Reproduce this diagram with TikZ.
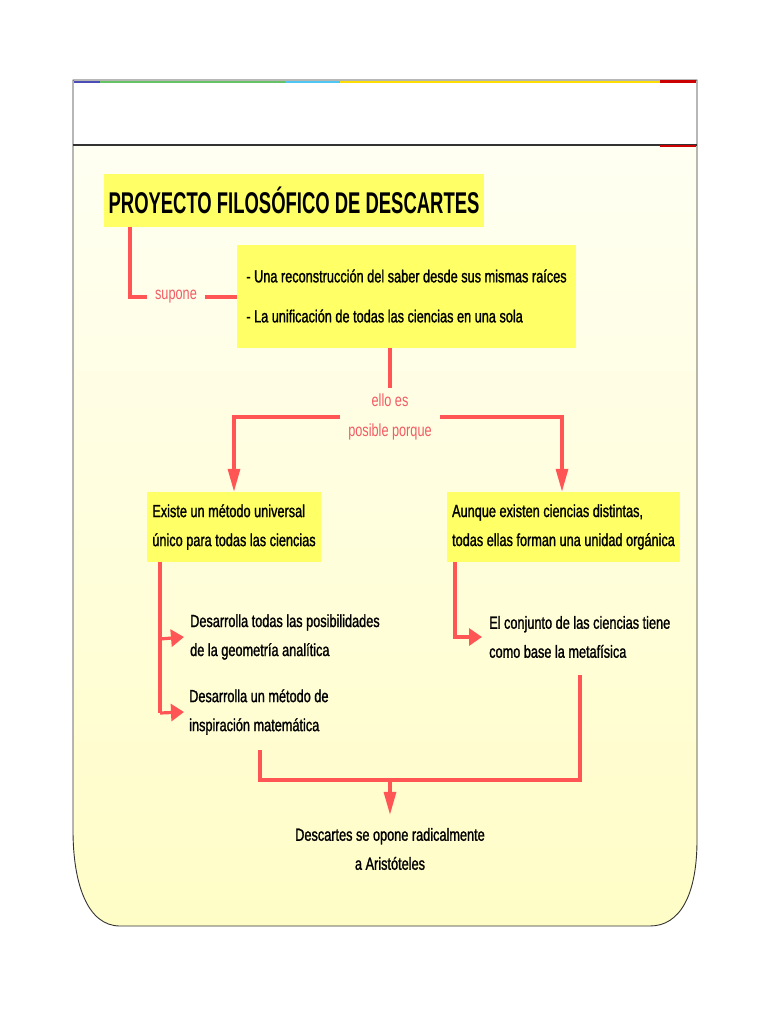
\documentclass[tikz,border=0pt]{standalone}
\usepackage{fontspec}
\setmainfont[FakeStretch=0.727,FakeBold=1.2]{Liberation Sans}
\newfontfamily\titlefont[FakeStretch=0.615]{Liberation Sans}
\newfontfamily\labfont[FakeStretch=0.727]{Liberation Sans}
\usetikzlibrary{arrows.meta}
\definecolor{boxyellow}{HTML}{FFFF66}
\definecolor{linered}{HTML}{FF5555}
\definecolor{labred}{HTML}{F25C64}
\definecolor{bgtop}{HTML}{FFFFF6}
\definecolor{bgbot}{HTML}{FFFDC6}
\definecolor{frameline}{HTML}{333333}
\begin{document}
\begin{tikzpicture}[x=1pt,y=-1pt,
  conn/.style={draw=linered, line width=3.2pt},
  arrdown/.style={conn, -{Triangle[length=23pt,width=12pt]}},
  arrside/.style={conn, -{Triangle[length=13pt,width=17pt]}},
  ybox/.style={fill=boxyellow, inner sep=0pt, align=left},
  body/.style={font=\fontsize{17.5}{29}\selectfont},
  txt/.style={body, align=left, anchor=west, inner sep=0pt},
  lab/.style={text=labred, font=\labfont\fontsize{17.5}{30}\selectfont, align=center}]
\useasboundingbox (0,0) rectangle (768,1024);
% frame
\path[top color=bgtop, bottom color=bgbot]
  (73,80) -- (697,80) -- (697,840) .. controls (697,895) and (680,926) .. (650,926)
  -- (120,926) .. controls (88,926) and (73,885) .. (73,830) -- cycle;
\fill[white] (73,83) rectangle (697,145);
\draw[frameline, line width=0.9pt]
  (73,80) -- (697,80) -- (697,840) .. controls (697,895) and (680,926) .. (650,926)
  -- (120,926) .. controls (88,926) and (73,885) .. (73,830) -- cycle;
\draw[frameline, line width=1.2pt] (73,145) -- (697,145);
% top stripes
\fill[blue!60!black!70] (74,81) rectangle (100,83);
\fill[green!60!black!60] (100,81) rectangle (285,83);
\fill[cyan!70] (285,81) rectangle (340,83);
\fill[yellow!80!orange] (340,81) rectangle (660,83);
\fill[red!80!black] (660,80) rectangle (696,83);
\fill[red!80!black] (660,145) rectangle (696,147);
% nodes
\node[ybox, font=\titlefont\bfseries\fontsize{30}{34}\selectfont, minimum width=380pt, minimum height=53pt] (title) at (294,200.5) {PROYECTO FILOSÓFICO DE DESCARTES};
\node[ybox, font=\fontsize{17.5}{40}\selectfont, minimum width=339pt, minimum height=103pt] (saber) at (406.5,296)
  {- Una reconstrucción del saber desde sus mismas raíces\\- La unificación de todas las ciencias en una sola};
\node[lab, inner xsep=8pt, inner ysep=2pt] (supone) at (176,297) {supone};
\node[lab, inner xsep=8pt, inner ysep=6pt] (ello) at (390,417) {ello es\\posible porque};
\node[ybox, body, minimum width=174pt, minimum height=70pt] (metodo) at (234,527)
  {Existe un método universal\\único para todas las ciencias};
\node[ybox, body, minimum width=233pt, minimum height=70pt] (unidad) at (563.5,527)
  {Aunque existen ciencias distintas,\\todas ellas forman una unidad orgánica};
\node[txt] (geom) at (190,637) {Desarrolla todas las posibilidades\\de la geometría analítica};
\node[txt] (insp) at (189,712) {Desarrolla un método de\\inspiración matemática};
\node[txt] (meta) at (489,637) {El conjunto de las ciencias tiene\\como base la metafísica};
\node[body, align=center, inner sep=0pt] (aris) at (390,849) {Descartes se opone radicalmente\\a Aristóteles};
% connectors
\coordinate (c1) at (130,227);
\draw[conn] (c1) |- (supone.west);
\draw[conn] (supone.east) -- (saber.west |- supone.east);
\draw[conn] (saber.south -| ello.north) -- (ello.north);
\draw[arrdown] (ello.west) -| (metodo.north -| 234,0);
\draw[arrdown] (ello.east) -| (unidad.north -| 562,0);
\coordinate (lb) at (160,562);
\draw[conn] (lb) -- (160,713);
\draw[arrside] (160,639) -- ([xshift=-6pt]geom.west);
\draw[arrside] (160,713) -- ([xshift=-5pt]insp.west);
\draw[arrside] (455,562) |- ([xshift=-7pt]meta.west);
\coordinate (j) at (390,780);
\draw[conn] (260,750) |- (580,780) -- (580,675);
\draw[arrdown] (j) -- ([yshift=13pt]aris.north);
\end{tikzpicture}
\end{document}
